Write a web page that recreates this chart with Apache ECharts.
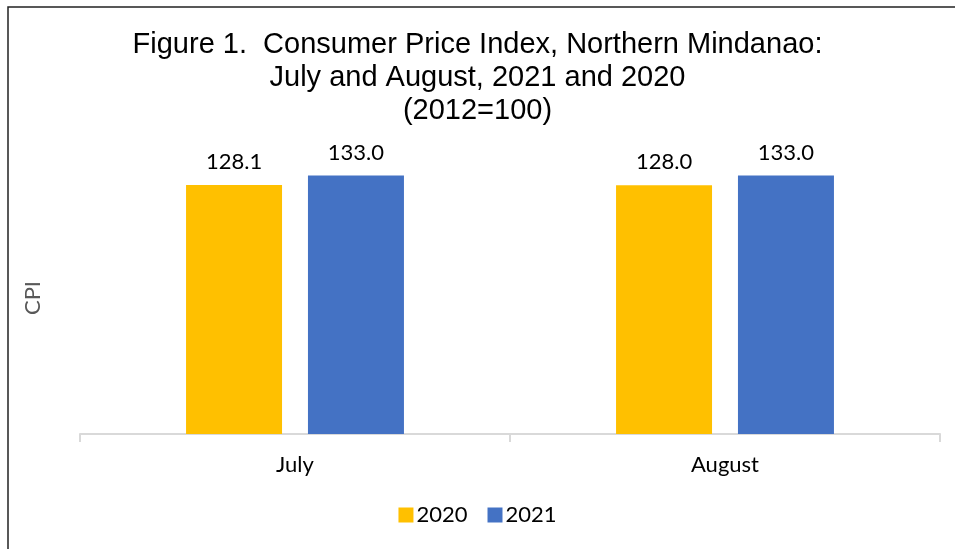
<!DOCTYPE html>
<html>
<head>
<meta charset="utf-8">
<script src="https://cdn.jsdelivr.net/npm/echarts@6/dist/echarts.min.js"></script>
<style>
html, body { margin: 0; padding: 0; background: #fff; }
#main { width: 955px; height: 549px; }
</style>
</head>
<body>
<div id="main"></div>
<script>
// data
var months = ['July', 'August'];
var cpi2020 = [128.1, 128.0];
var cpi2021 = [133.0, 133.0];
var seriesNames = ['2020', '2021'];

var labelFont = 'Lato, "Open Sans", sans-serif';

var chart = echarts.init(document.getElementById('main'));
chart.setOption({
  animation: false,
  backgroundColor: '#fff',
  color: ['#ffc000', '#4472c4'],
  title: {
    text: 'Figure 1.  Consumer Price Index, Northern Mindanao:\nJuly and August, 2021 and 2020\n(2012=100)',
    left: 'center',
    top: 23,
    textStyle: {
      fontFamily: '"Liberation Sans", Arial, sans-serif',
      fontWeight: 'normal',
      fontSize: 29,
      lineHeight: 33,
      color: '#000'
    }
  },
  graphic: [{
    type: 'rect',
    shape: { x: 8, y: 7, width: 960, height: 560 },
    style: { fill: 'none', stroke: '#222', lineWidth: 1.5 }
  }],
  legend: {
    data: seriesNames,
    bottom: 18,
    left: 'center',
    itemWidth: 15,
    itemHeight: 15,
    itemGap: 20,
    icon: 'rect',
    textStyle: { fontFamily: labelFont, fontSize: 22, color: '#000', padding: [0, 0, 0, -2] }
  },
  grid: { left: 80, right: 15, top: 162, bottom: 115 },
  xAxis: {
    type: 'category',
    data: months,
    axisLine: { lineStyle: { color: '#d9d9d9', width: 2 } },
    axisTick: { show: true, length: 8, lineStyle: { color: '#d9d9d9', width: 2 } },
    axisLabel: { fontFamily: labelFont, fontSize: 22, color: '#000', margin: 20 }
  },
  yAxis: {
    type: 'value',
    min: 0,
    max: 140,
    name: 'CPI',
    nameLocation: 'middle',
    nameGap: 36,
    nameRotate: 90,
    nameTextStyle: { fontFamily: labelFont, fontSize: 22, color: '#595959' },
    axisLine: { show: false },
    axisTick: { show: false },
    axisLabel: { show: false },
    splitLine: { show: false }
  },
  series: [{
    name: seriesNames[0],
    type: 'bar',
    data: cpi2020,
    barWidth: 96,
    barGap: '27%',
    label: { show: true, position: 'top', distance: 12, fontFamily: labelFont, fontSize: 22, color: '#000',
      formatter: function (p) { return p.value.toFixed(1); } }
  }, {
    name: seriesNames[1],
    type: 'bar',
    data: cpi2021,
    barWidth: 96,
    barGap: '27%',
    label: { show: true, position: 'top', distance: 12, fontFamily: labelFont, fontSize: 22, color: '#000',
      formatter: function (p) { return p.value.toFixed(1); } }
  }]
});
</script>
</body>
</html>
